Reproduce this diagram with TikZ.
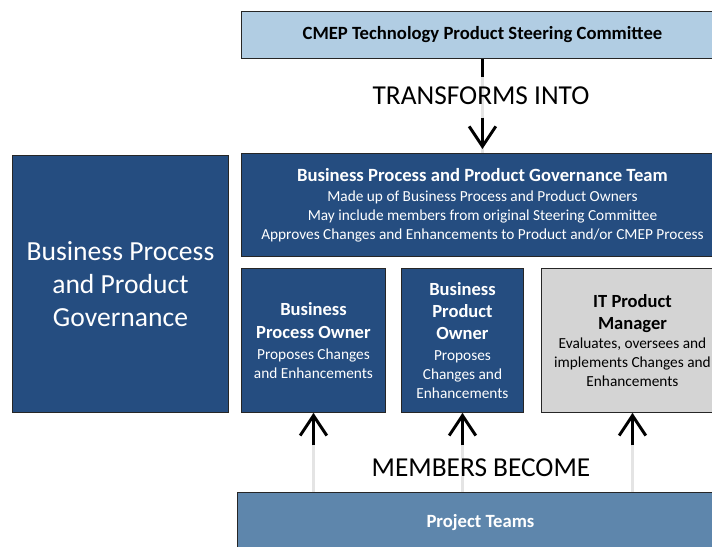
\documentclass[tikz,border=0pt]{standalone}
\usepackage{fontspec}
\setmainfont{Carlito}
\usetikzlibrary{arrows.meta}
\definecolor{govblue}{RGB}{37,77,128}
\definecolor{steerblue}{RGB}{177,205,227}
\definecolor{teamsblue}{RGB}{94,134,172}
\definecolor{itgray}{RGB}{212,212,212}
\definecolor{shaftgray}{RGB}{228,228,228}
\newcommand\pxu{0.75pt}
\newcommand\boxhead[1]{{\fontsize{13.9}{16.5}\selectfont\bfseries #1}}
\tikzset{
  box/.style={draw=black!85, line width=0.7pt, inner sep=0pt, anchor=north west, align=center},
  boxtext/.style={font=\fontsize{11.5}{14.25}\selectfont},
  shaft/.style={draw=shaftgray, line width=2.2pt},
  tipline/.style={draw=black, line width=2.2pt, -{Straight Barb[length=15pt, width=20pt, line width=2.2pt]}},
  stub/.style={draw=black, line width=2.2pt},
  caption/.style={font=\fontsize{20.5}{24}\selectfont}
}
\begin{document}
\begin{tikzpicture}[x=0.75pt, y=-0.75pt]
      \useasboundingbox (0,0) rectangle (712,546);
      \clip (0,0) rectangle (712,546);
      \node [box, fill=govblue, text=white, minimum width=216*\pxu, minimum height=257*\pxu, font=\fontsize{20.7}{25}\selectfont] (gov) at (12,155) {Business Process\\and Product\\Governance};
      \node [box, fill=steerblue, minimum width=482*\pxu, minimum height=47*\pxu, font=\fontsize{14}{16}\selectfont\bfseries] (steer) at (241,11) {CMEP Technology Product Steering Committee};
      \node [box, boxtext, fill=govblue, text=white, minimum width=482*\pxu, minimum height=103*\pxu] (govteam) at (241,153) {{\fontsize{14}{15}\selectfont\bfseries Business Process and Product Governance Team}\\[0.8pt]Made up of Business Process and Product Owners\\May include members from original Steering Committee\\Approves Changes and Enhancements to Product and/or CMEP Process};
      \node [box, boxtext, fill=govblue, text=white, minimum width=144*\pxu, minimum height=144*\pxu] (bpo) at (241,268) {\boxhead{Business}\\[2.5pt]\boxhead{Process Owner}\\[1.5pt]Proposes Changes\\and Enhancements};
      \node [box, boxtext, fill=govblue, text=white, minimum width=122*\pxu, minimum height=144*\pxu] (po) at (401,268) {\boxhead{Business}\\[2.5pt]\boxhead{Product}\\[2.5pt]\boxhead{Owner}\\[1.5pt]Proposes\\Changes and\\Enhancements};
      \node [box, boxtext, fill=itgray, minimum width=182*\pxu, minimum height=144*\pxu] (itpm) at (541,268) {\boxhead{IT Product}\\[2.5pt]\boxhead{Manager}\\Evaluates, oversees and\\implements Changes and\\Enhancements};
      \node [box, fill=teamsblue, text=white, minimum width=486*\pxu, minimum height=60*\pxu, font=\fontsize{14}{16}\selectfont\bfseries] (teams) at (237,492) {\raisebox{3pt}{Project Teams}};
      % transforms into
      \draw[shaft] (steer.south) -- (govteam.north);
      \draw[stub, shorten >=57pt] (steer.south) -- (govteam.north);
      \draw[tipline, shorten <=44pt, shorten >=3pt] (steer.south) -- (govteam.north);
      \node [caption] (transf) at (481,96) {TRANSFORMS INTO};
      % members become
      \foreach \b in {bpo, po, itpm} {
        \draw[shaft] (teams.north -| \b.south) -- (\b.south);
        \draw[tipline, shorten <=35pt] (teams.north -| \b.south) -- (\b.south);
      }
      \node [caption] (members) at (481,468) {MEMBERS BECOME};
    \end{tikzpicture}
\end{document}
